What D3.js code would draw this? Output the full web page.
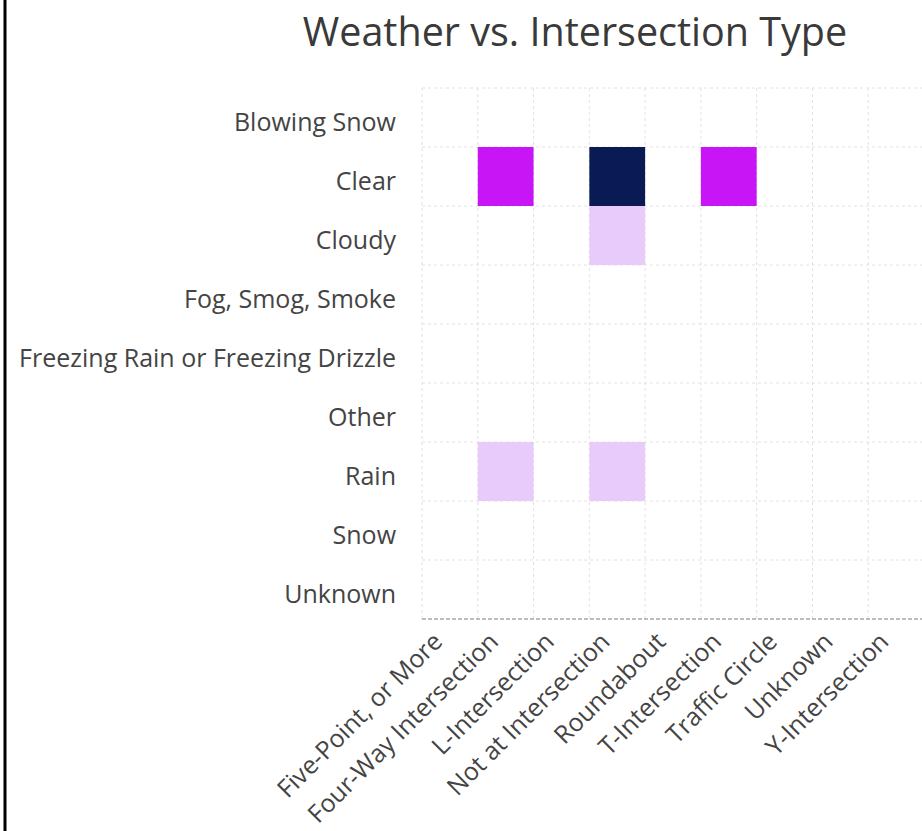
<!DOCTYPE html>
<html>
<head>
<meta charset="utf-8">
<script src="https://cdn.jsdelivr.net/npm/d3@7"></script>
<style>
  html, body { margin: 0; padding: 0; background: #fff; }
  svg { display: block; }
</style>
</head>
<body>
<script>
const weather = ["Blowing Snow", "Clear", "Cloudy", "Fog, Smog, Smoke",
  "Freezing Rain or Freezing Drizzle", "Other", "Rain", "Snow", "Unknown"];
const intersections = ["Five-Point, or More", "Four-Way Intersection", "L-Intersection",
  "Not at Intersection", "Roundabout", "T-Intersection", "Traffic Circle", "Unknown", "Y-Intersection"];
// non-zero cells: [weather, intersection, count]
const cellWeather = ["Clear", "Clear", "Clear", "Cloudy", "Rain", "Rain"];
const cellIntersection = ["Four-Way Intersection", "Not at Intersection", "T-Intersection",
  "Not at Intersection", "Four-Way Intersection", "Not at Intersection"];
const cellCount = [2, 4, 2, 1, 1, 1];
const title = "Weather vs. Intersection Type";

const W = 922, H = 831;
const margin = { left: 422, top: 88, right: -2, bottom: 212 };
const font = "'Open Sans', 'Noto Sans', sans-serif";

const svg = d3.select("body").append("svg").attr("width", W).attr("height", H);

// left frame line
svg.append("line").attr("x1", 5).attr("x2", 5).attr("y1", 0).attr("y2", H)
  .attr("stroke", "#000").attr("stroke-width", 3);

const x = d3.scaleBand().domain(intersections).range([margin.left, W - margin.right]);
const y = d3.scaleBand().domain(weather).range([margin.top, H - margin.bottom]);

const color = d3.scaleLinear().domain([1, 2, 4])
  .range(["#e8cbfb", "#c815f5", "#0a1a55"]);

// grid
const g = svg.append("g");
g.selectAll("line.v").data(intersections).join("line")
  .attr("x1", d => x(d)).attr("x2", d => x(d))
  .attr("y1", y.range()[0]).attr("y2", y.range()[1])
  .attr("stroke", "#e2e2e2").attr("stroke-width", 1).attr("stroke-dasharray", "3,3");
g.append("line")
  .attr("x1", x.range()[1]).attr("x2", x.range()[1])
  .attr("y1", y.range()[0]).attr("y2", y.range()[1])
  .attr("stroke", "#e2e2e2").attr("stroke-dasharray", "3,3");
g.selectAll("line.h").data(weather).join("line")
  .attr("x1", x.range()[0]).attr("x2", x.range()[1])
  .attr("y1", d => y(d)).attr("y2", d => y(d))
  .attr("stroke", "#e2e2e2").attr("stroke-width", 1).attr("stroke-dasharray", "3,3");

// cells
const cells = cellCount.map((c, i) => ({ w: cellWeather[i], t: cellIntersection[i], c }));
svg.append("g").selectAll("rect").data(cells).join("rect")
  .attr("x", d => x(d.t)).attr("y", d => y(d.w))
  .attr("width", x.bandwidth()).attr("height", y.bandwidth())
  .attr("fill", d => color(d.c));

// bottom axis line
svg.append("line").attr("x1", x.range()[0]).attr("x2", x.range()[1])
  .attr("y1", y.range()[1]).attr("y2", y.range()[1])
  .attr("stroke", "#a8a8a8").attr("stroke-width", 1.5).attr("stroke-dasharray", "4,2");

// y labels
svg.append("g").selectAll("text").data(weather).join("text")
  .attr("x", 396).attr("y", d => y(d) + y.bandwidth() / 2 + 3)
  .attr("text-anchor", "end").attr("dominant-baseline", "central")
  .attr("font-family", font).attr("font-size", 25).attr("fill", "#444")
  .text(d => d);

// x labels
svg.append("g").selectAll("text").data(intersections).join("text")
  .attr("transform", d => `translate(${x(d) + x.bandwidth() / 2 - 13},${y.range()[1] + 17}) rotate(-45)`)
  .attr("text-anchor", "end").attr("dominant-baseline", "central")
  .attr("font-family", font).attr("font-size", 25).attr("fill", "#444")
  .text(d => d);

// title
svg.append("text").attr("x", 575).attr("y", 46)
  .attr("text-anchor", "middle")
  .attr("font-family", font).attr("font-size", 39.5).attr("fill", "#3a3a3a")
  .text(title);
</script>
</body>
</html>
